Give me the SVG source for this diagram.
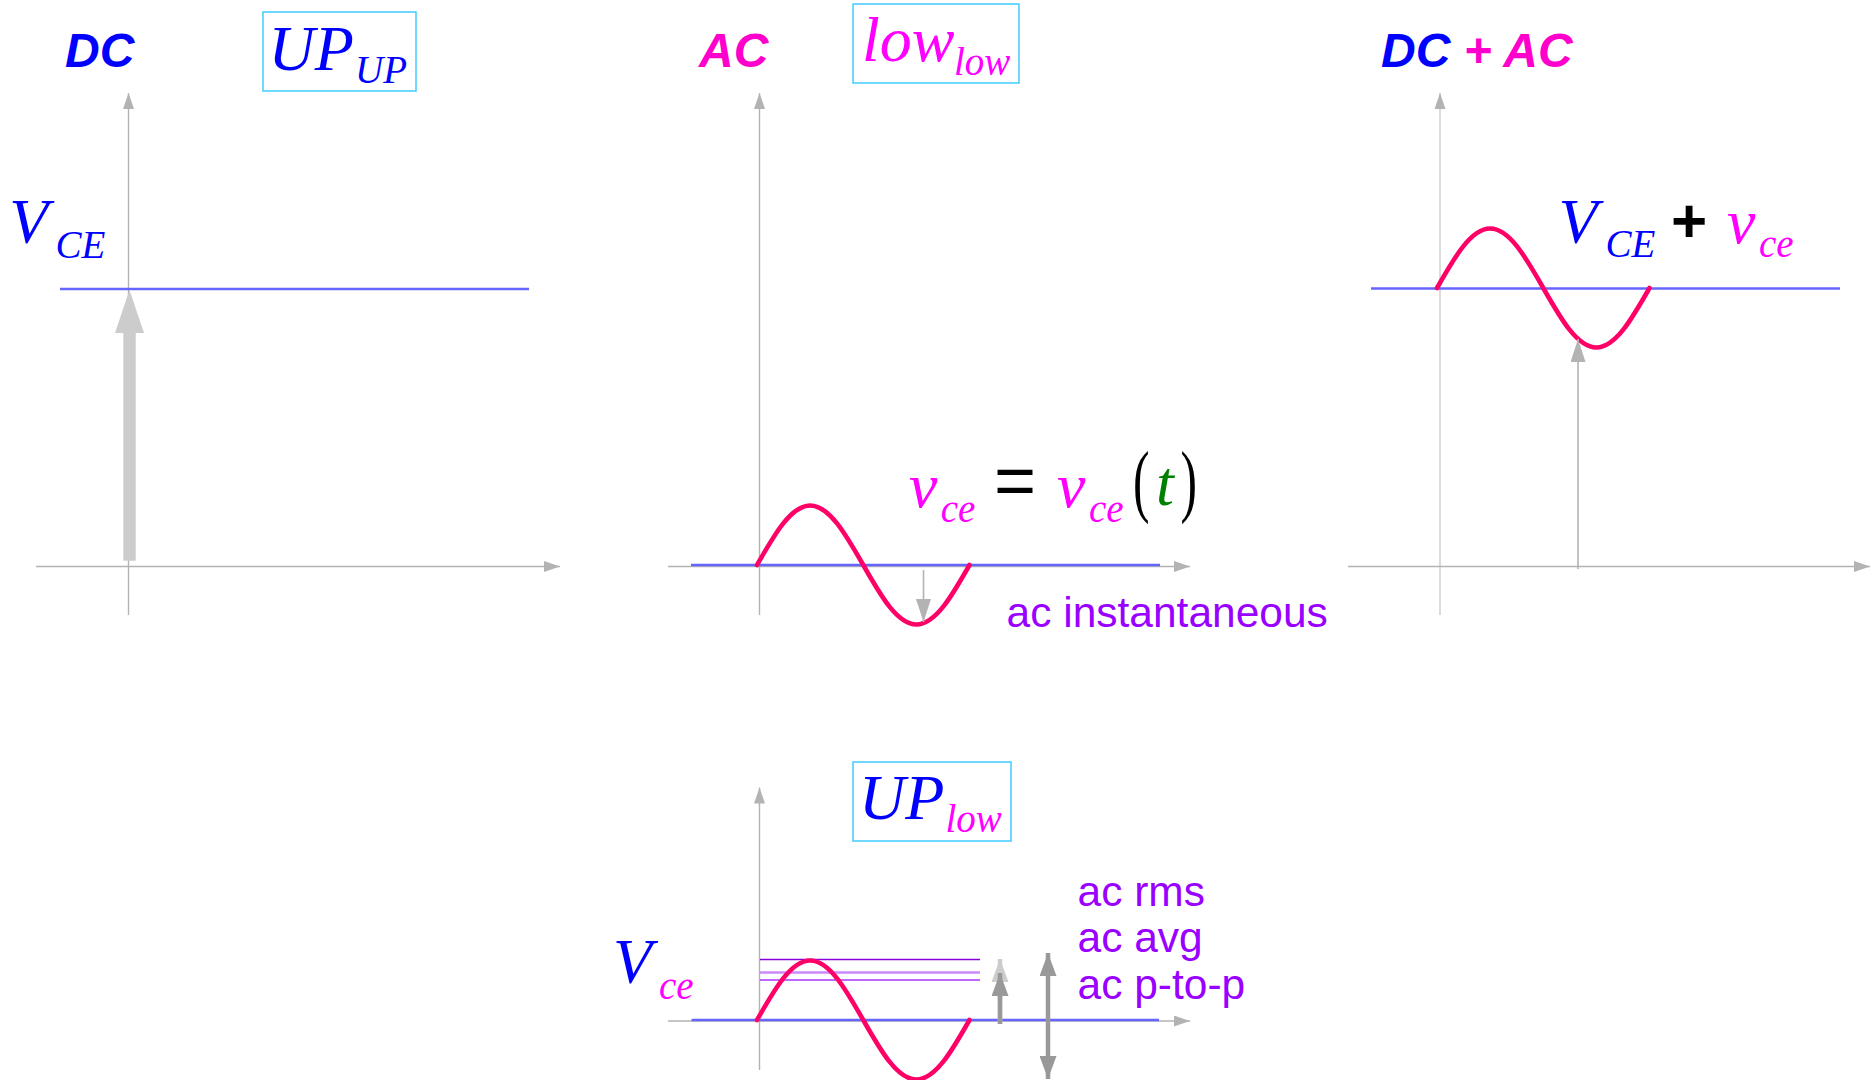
<svg xmlns="http://www.w3.org/2000/svg" width="1875" height="1080" viewBox="0 0 1875 1080">
<style>
.title{font-family:"Liberation Sans",Arial,sans-serif;font-weight:bold;font-style:italic;font-size:48px}
.math{font-family:"Liberation Serif","Times New Roman",serif;font-style:italic}
.big{font-size:64px}
.sub{font-size:39px}
.bsub{font-size:39px}
.lbl{font-family:"Liberation Sans",Arial,sans-serif;font-size:42.5px;fill:#9900ff}
.blue{fill:#0000ff}
.mag{fill:#ff00ff}
.tmag{fill:#ff00cc}
.box{fill:none;stroke:#40ccff;stroke-width:1.5}
.axis{stroke:#b3b3b3;stroke-width:1.4;fill:none}
.axis2{stroke:#cccccc;stroke-width:1.4;fill:none}
.dcline{stroke:#6666ff;stroke-width:2.3;fill:none}
.sine{stroke:#ff0066;stroke-width:4.6;fill:none;stroke-linecap:round;stroke-linejoin:round}
.thin{stroke:#b3b3b3;stroke-width:1.6;fill:none}
.thick{stroke:#999999;stroke-width:4.5;fill:none}
</style>
<defs>
<marker id="ax" viewBox="0 0 16 11" refX="16" refY="5.5" markerWidth="16" markerHeight="11" markerUnits="userSpaceOnUse" orient="auto"><path d="M0,0 L16,5.5 L0,11 z" fill="#b3b3b3"/></marker>
<marker id="ga" viewBox="0 0 23 15" refX="23" refY="7.5" markerWidth="23" markerHeight="15" markerUnits="userSpaceOnUse" orient="auto"><path d="M0,0 L23,7.5 L0,15 z" fill="#b3b3b3"/></marker>
<marker id="da" viewBox="0 0 23 17" refX="23" refY="8.5" markerWidth="23" markerHeight="17" markerUnits="userSpaceOnUse" orient="auto-start-reverse"><path d="M0,0 L23,8.5 L0,17 z" fill="#999999"/></marker>
<marker id="la" viewBox="0 0 23 17" refX="23" refY="8.5" markerWidth="23" markerHeight="17" markerUnits="userSpaceOnUse" orient="auto"><path d="M0,0 L23,8.5 L0,17 z" fill="#cccccc"/></marker>
<path id="wave" d="M0,0 c17.32,-30.46 33.89,-59.5 53.125,-59.5 c19.235,0 35.805,29.04 53.125,59.5 c17.32,30.46 33.89,59.5 53.125,59.5 c19.235,0 35.805,-29.04 53.125,-59.5"/>
</defs>

<g id="panel-dc">
  <text id="dc-title" class="title blue" x="65" y="67">DC</text>
  <g id="dc-box">
    <rect class="box" x="263" y="12" width="153" height="79"/>
    <text class="math blue"><tspan class="big" x="268.5" y="70">UP</tspan><tspan class="bsub" x="355" y="83">UP</tspan></text>
  </g>
  <text id="dc-label" class="math blue"><tspan class="big" x="9.3" y="243">V</tspan><tspan class="sub" x="55.4" y="258">CE</tspan></text>
  <line class="axis" x1="128.5" y1="615" x2="128.5" y2="93" marker-end="url(#ax)"/>
  <line class="axis" x1="36" y1="566.5" x2="560" y2="566.5" marker-end="url(#ax)"/>
  <line class="dcline" x1="60" y1="289" x2="529" y2="289"/>
  <g id="dc-arrow" fill="#cccccc">
    <rect x="123.3" y="332" width="12.4" height="228.7"/>
    <polygon points="115,333 144,333 129.5,290"/>
  </g>
</g>

<g id="panel-ac">
  <text id="ac-title" class="title tmag" x="699" y="67">AC</text>
  <g id="ac-box">
    <rect class="box" x="853" y="4" width="166" height="79"/>
    <text class="math mag"><tspan class="big" x="862" y="61">low</tspan><tspan class="bsub" x="954" y="75">low</tspan></text>
  </g>
  <line class="axis" x1="759.5" y1="615" x2="759.5" y2="93" marker-end="url(#ax)"/>
  <line class="axis" x1="668" y1="566.5" x2="1190" y2="566.5" marker-end="url(#ax)"/>
  <line class="dcline" x1="691" y1="565" x2="1160" y2="565"/>
  <use href="#wave" class="sine" x="757" y="565"/>
  <line class="thin" x1="923.5" y1="570" x2="923.5" y2="622" marker-end="url(#ga)"/>
  <g id="ac-formula">
    <text class="math mag"><tspan class="big" x="909" y="507">v</tspan><tspan class="bsub" x="940.7" y="522">ce</tspan></text>
    <text x="994" y="505" font-family="Liberation Sans, Arial, sans-serif" font-size="72" fill="#000000">=</text>
    <text class="math mag"><tspan class="big" x="1057" y="507">v</tspan><tspan class="bsub" x="1089" y="522">ce</tspan></text>
    <text transform="translate(1133,507) scale(0.62,1)" font-family="Liberation Serif, Times New Roman, serif" font-size="80" fill="#000000">(</text>
    <text class="math big" x="1156" y="505" fill="#008000">t</text>
    <text transform="translate(1180.6,507) scale(0.62,1)" font-family="Liberation Serif, Times New Roman, serif" font-size="80" fill="#000000">)</text>
  </g>
  <text id="ac-inst" class="lbl" x="1006.5" y="627">ac instantaneous</text>
</g>

<g id="panel-dcac">
  <text id="dcac-title" class="title" x="1381" y="67"><tspan class="blue">DC</tspan><tspan class="tmag"> + AC</tspan></text>
  <line class="axis2" x1="1440" y1="615" x2="1440" y2="93" marker-end="url(#ax)"/>
  <line class="axis" x1="1348" y1="566.5" x2="1870" y2="566.5" marker-end="url(#ax)"/>
  <line class="dcline" x1="1371" y1="288.5" x2="1840" y2="288.5"/>
  <use href="#wave" class="sine" x="1437" y="288"/>
  <line class="thin" x1="1578" y1="569" x2="1578" y2="339" marker-end="url(#ga)"/>
  <g id="dcac-label">
    <text class="math blue"><tspan class="big" x="1558.5" y="243">V</tspan><tspan class="sub" x="1605.6" y="257">CE</tspan></text>
    <text x="1671" y="242" font-family="Liberation Sans, Arial, sans-serif" font-weight="bold" font-size="62" fill="#000000">+</text>
    <text class="math mag"><tspan class="big" x="1727" y="243">v</tspan><tspan class="sub" x="1759" y="257">ce</tspan></text>
  </g>
</g>

<g id="panel-measures">
  <g id="meas-box">
    <rect class="box" x="853" y="762" width="158" height="79"/>
    <text class="math"><tspan class="big blue" x="859" y="819">UP</tspan><tspan class="bsub mag" x="945.5" y="832">low</tspan></text>
  </g>
  <text id="meas-label" class="math"><tspan class="big blue" x="613" y="983">V</tspan><tspan class="sub mag" x="659" y="999">ce</tspan></text>
  <line class="axis" x1="759.5" y1="1070" x2="759.5" y2="787.5" marker-end="url(#ax)"/>
  <line class="axis" x1="668" y1="1021" x2="1190" y2="1021" marker-end="url(#ax)"/>
  <line class="dcline" x1="691.5" y1="1020" x2="1159" y2="1020"/>
  <line x1="760" y1="959.5" x2="980" y2="959.5" stroke="#8800dd" stroke-width="1.6"/>
  <line x1="760" y1="972.5" x2="980" y2="972.5" stroke="#cc88ff" stroke-width="2.5"/>
  <line x1="760" y1="980" x2="980" y2="980" stroke="#aa33ff" stroke-width="1.6"/>
  <use href="#wave" class="sine" x="757" y="1020"/>
  <line x1="1000" y1="1024" x2="1000" y2="959" stroke="#cccccc" stroke-width="4.5" marker-end="url(#la)"/>
  <line class="thick" x1="1000" y1="1024" x2="1000" y2="973" marker-end="url(#da)"/>
  <line class="thick" x1="1048" y1="1079" x2="1048" y2="953" marker-start="url(#da)" marker-end="url(#da)"/>
  <text class="lbl" x="1077.5" y="906">ac rms</text>
  <text class="lbl" x="1077.5" y="952">ac avg</text>
  <text class="lbl" x="1077.5" y="999">ac p-to-p</text>
</g>
</svg>
